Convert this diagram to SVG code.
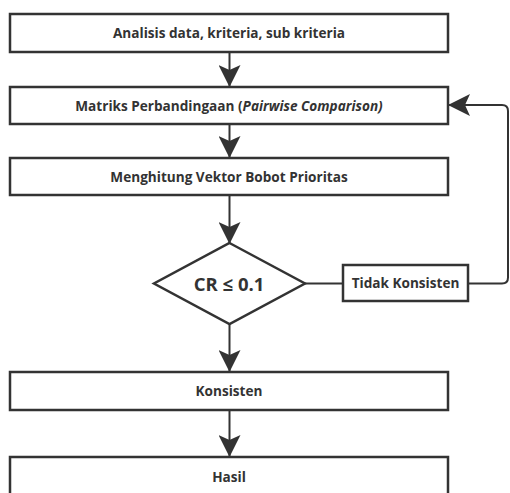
<svg xmlns="http://www.w3.org/2000/svg" width="510" height="493" viewBox="0 0 510 493">
<style>
.box{fill:#fff;stroke:#333;stroke-width:2.5}
.t{font-family:"Open Sans","Noto Sans",sans-serif;font-weight:bold;font-size:13.6px;fill:#333;text-anchor:middle}
.c{fill:none;stroke:#333;stroke-width:2}
</style>
<defs>
<marker id="ah" viewBox="0 0 22 22" refX="21" refY="11" markerWidth="22" markerHeight="22" markerUnits="userSpaceOnUse" orient="auto">
<path d="M0,0 L22,11 L0,22 L5,11 Z" fill="#333"/>
</marker>
</defs>
<rect x="0" y="0" width="510" height="493" fill="#fff"/>
<g id="connectors">
<line class="c" x1="229.5" y1="52" x2="229.5" y2="86" marker-end="url(#ah)"/>
<line class="c" x1="229.5" y1="124" x2="229.5" y2="157" marker-end="url(#ah)"/>
<line class="c" x1="229.5" y1="195" x2="229.5" y2="243" marker-end="url(#ah)"/>
<line class="c" x1="229.5" y1="324" x2="229.5" y2="371" marker-end="url(#ah)"/>
<line class="c" x1="229.5" y1="410" x2="229.5" y2="456" marker-end="url(#ah)"/>
<line class="c" x1="305" y1="283.5" x2="343" y2="283.5"/>
<path class="c" d="M468,283.5 H502 Q508,283.5 508,277.5 V111 Q508,105 502,105 H449" marker-end="url(#ah)"/>
</g>
<g id="n1"><rect class="box" x="10" y="14" width="438" height="38"/><text class="t" x="229" y="38">Analisis data, kriteria, sub kriteria</text></g>
<g id="n2"><rect class="box" x="10" y="87" width="438" height="37"/><text class="t" x="229" y="110.5">Matriks Perbandingaan (<tspan font-style="italic">Pairwise Comparison)</tspan></text></g>
<g id="n3"><rect class="box" x="10" y="158" width="438" height="37"/><text class="t" x="229" y="181.5">Menghitung Vektor Bobot Prioritas</text></g>
<g id="n4"><polygon class="box" points="229.5,243 305,283.5 229.5,324 154,283.5"/><text class="t" x="229" y="291" style="font-size:18.5px">CR ≤ 0.1</text></g>
<g id="n5"><rect class="box" x="343" y="265" width="125" height="36"/><text class="t" x="405.5" y="288">Tidak Konsisten</text></g>
<g id="n6"><rect class="box" x="10" y="372" width="438" height="38"/><text class="t" x="229" y="396">Konsisten</text></g>
<g id="n7"><rect class="box" x="10" y="457" width="438" height="40"/><text class="t" x="229" y="482">Hasil</text></g>
</svg>
